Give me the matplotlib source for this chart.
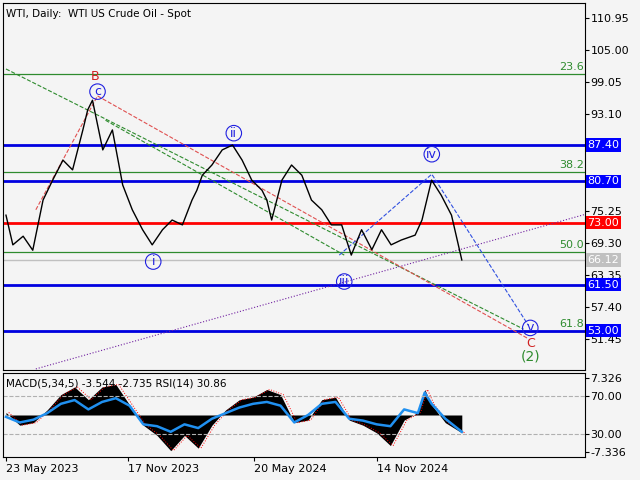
import matplotlib
matplotlib.use("Agg")
import matplotlib.pyplot as plt
import numpy as np

# x positions are in days since 23 May 2023
price_days = [0,10,25,39,54,68,83,97,112,119,126,141,155,170,184,199,213,228,242,257,271,278,286,300,315,330,344,358,373,380,387,402,416,431,445,460,474,489,503,518,533,547,561,576,596,606,620,634,649,664]
price_vals = [74.4,68.9,70.5,67.9,77.2,80.9,84.6,82.8,90.2,93.9,95.7,86.5,90.2,80.0,75.4,71.7,68.9,71.7,73.5,72.6,77.2,79.0,81.8,83.7,86.5,87.4,84.6,80.9,79.0,77.2,73.5,80.9,83.7,81.8,77.2,75.4,72.6,72.6,67.0,71.7,68.0,71.7,68.9,69.8,70.7,73.5,80.9,78.1,74.4,66.1]

ind_days = [0,20,40,60,80,100,120,140,160,180,200,220,240,260,280,300,320,340,360,380,400,420,440,460,480,500,520,540,560,580,600,610,620,640,664]
rsi_vals = [48,42,45,52,62,66,56,64,68,60,40,38,32,40,36,46,52,58,62,64,60,42,50,62,64,46,44,40,38,56,52,74,62,46,32]
macd_vals = [0.5,-2.0,-1.5,1.0,4.0,5.5,3.0,5.5,6.0,2.0,-2.0,-4.0,-7.0,-4.0,-6.5,-2.0,1.0,3.0,3.5,5.0,4.0,-1.5,-1.0,3.0,3.5,-1.0,-2.0,-3.5,-6.0,-1.0,0.5,5.0,2.0,-1.5,-3.5]

tick_days = [0,178,362,540]
tick_labels = ["23 May 2023","17 Nov 2023","20 May 2024","14 Nov 2024"]
price_ticks = [110.95,105.00,99.05,93.10,75.25,69.30,63.35,57.40,51.45]
blue_levels = [87.40,80.70,61.50,53.00]
red_level = 73.00
last_price = 66.12
fib_levels = [100.57,82.4,67.6,52.9]
fib_labels = ["23.6","38.2","50.0","61.8"]

bg = "#f4f4f4"
fig = plt.figure(figsize=(6.4,4.8), dpi=100, facecolor=bg)
px = 0.69
x0, x1 = -3/px, 582/px
ax = fig.add_axes([3/640, 110/480, 582/640, 367/480], facecolor=bg)
ax.set_xlim(x0, x1)
ax.set_ylim(45.7, 113.73)

for lv, lb in zip(fib_levels, fib_labels):
    ax.axhline(lv, color="#2e8b2e", lw=0.9)
    ax.text(x1-2, lv+0.4, lb, color="#2e8b2e", fontsize=8, ha="right", va="bottom")
for lv in blue_levels:
    ax.axhline(lv, color="#0000e0", lw=2)
ax.axhline(red_level, color="#ff0000", lw=2)
ax.axhline(last_price, color="#c0c0c0", lw=1)

def dl(xs, ys, c, ls="--"):
    ax.plot(np.array(xs)/px, ys, color=c, lw=0.8, ls=ls)
dl([0,520],[101.5,53.3],"#2e8b2e")
dl([30,92,525],[75.4,96.5,51.5],"#e05050")
dl([100,340],[92,67],"#2e8b2e")
dl([335,428,525],[67,82,54],"#3050e0")
dl([30,585],[45.9,74.7],"#7020a0",":")

ax.plot(price_days, price_vals, color="black", lw=1)

def lab(xp, yv, t, c, circ=True, fs=9):
    kw = dict(boxstyle="circle,pad=0.1", fc="none", ec=c, lw=0.8) if circ else None
    ax.text(xp/px, yv, t, color=c, fontsize=fs, ha="center", va="center", bbox=kw)
lab(90,100.1,"B","#d02020",False)
lab(92,97.3,"c","#2020e0")
lab(229,89.6,"ii","#2020e0")
lab(428,85.7,"iv","#2020e0")
lab(148,65.8,"i","#2020e0")
lab(340,62.1,"iii","#2020e0")
lab(527,53.5,"v","#2020e0")
lab(527,50.6,"C","#d02020",False)
lab(527,48.2,"(2)","#2e8b2e",False,10)

ax.set_xticks([])
ax.yaxis.tick_right()
ax.set_yticks(price_ticks)
ax.set_yticklabels([f"{v:.2f}" for v in price_ticks], fontsize=8)
ax.tick_params(axis="y", length=3, pad=1)
for lv, c, tc in [(87.40,"#0000ff","white"),(80.70,"#0000ff","white"),(61.50,"#0000ff","white"),(53.00,"#0000ff","white"),(73.00,"#ff0000","white"),(66.12,"#c0c0c0","white")]:
    ax.text(1.004, lv, f"{lv:.2f}", transform=ax.get_yaxis_transform(), fontsize=8, color=tc,
            va="center", ha="left", bbox=dict(boxstyle="square,pad=0.15", fc=c, ec="none"))
ax.text(0.005, 0.985, "WTI, Daily:  WTI US Crude Oil - Spot", transform=ax.transAxes, fontsize=7.5, va="top")

ax2 = fig.add_axes([3/640, 23/480, 582/640, 84/480], facecolor=bg)
ax2.set_xlim(x0, x1)
ax2.set_ylim(5, 95)
m = 50 + np.array(macd_vals)*5.46
ax2.fill_between(ind_days, 50, m, color="black", lw=0)
ax2.plot(np.array(ind_days)+4, m, color="red", lw=0.7, ls=":")
ax2.plot(ind_days, rsi_vals, color="#2090f0", lw=1.8)
ax2.axhline(70, color="#b0b0b0", ls="--", lw=0.8)
ax2.axhline(30, color="#b0b0b0", ls="--", lw=0.8)
ax2.yaxis.tick_right()
ax2.set_yticks([90,70,30,10])
ax2.set_yticklabels(["7.326","70.00","30.00","-7.336"], fontsize=8)
ax2.tick_params(axis="y", length=3, pad=1)
ax2.set_xticks(tick_days)
ax2.set_xticklabels(tick_labels, fontsize=8, ha="left")
ax2.tick_params(axis="x", length=3, pad=2)
ax2.text(0.005, 0.93, "MACD(5,34,5) -3.544 -2.735 RSI(14) 30.86", transform=ax2.transAxes, fontsize=7.5, va="top")

fig.savefig("out.png", dpi=100, facecolor=bg)
